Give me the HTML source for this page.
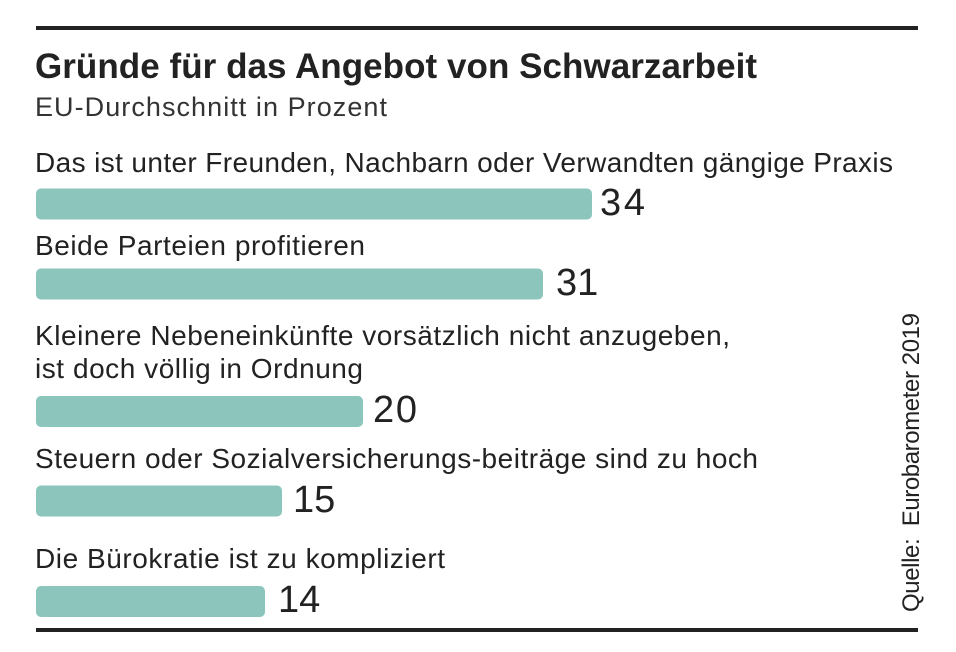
<!DOCTYPE html>
<html>
<head>
<meta charset="utf-8">
<style>
  html, body { margin:0; padding:0; background:#fff; }
  svg { display:block; }
  text { font-family: "Liberation Sans", Arial, sans-serif; fill:#222; }
</style>
</head>
<body>
<svg width="956" height="652" viewBox="0 0 956 652" xmlns="http://www.w3.org/2000/svg">
  <rect x="0" y="0" width="956" height="652" fill="#fff"/>
  <!-- top rule -->
  <rect x="36" y="26" width="882" height="4" fill="#222"/>
  <!-- title -->
  <text x="35" y="78" font-size="35" font-weight="bold" textLength="722" lengthAdjust="spacing">Gründe für das Angebot von Schwarzarbeit</text>
  <text x="35" y="116" font-size="27" style="fill:#333" textLength="352" lengthAdjust="spacing">EU-Durchschnitt in Prozent</text>

  <!-- labels -->
  <text x="35" y="172" font-size="28" textLength="858" lengthAdjust="spacing">Das ist unter Freunden, Nachbarn oder Verwandten gängige Praxis</text>
  <text x="35" y="255" font-size="28" textLength="330" lengthAdjust="spacing">Beide Parteien profitieren</text>
  <text x="35" y="345" font-size="28" textLength="695" lengthAdjust="spacing">Kleinere Nebeneinkünfte vorsätzlich nicht anzugeben,</text>
  <text x="35" y="378" font-size="28" textLength="328" lengthAdjust="spacing">ist doch völlig in Ordnung</text>
  <text x="35" y="468" font-size="28" textLength="723" lengthAdjust="spacing">Steuern oder Sozialversicherungs-beiträge sind zu hoch</text>
  <text x="35" y="568" font-size="28" textLength="410" lengthAdjust="spacing">Die Bürokratie ist zu kompliziert</text>

  <!-- bars -->
  <g fill="#8bc5bb">
    <rect x="36" y="188.5" width="556" height="31" rx="5" ry="5"/>
    <rect x="36" y="268.5" width="507" height="31" rx="5" ry="5"/>
    <rect x="36" y="396" width="327" height="31" rx="5" ry="5"/>
    <rect x="36" y="485.5" width="246" height="31" rx="5" ry="5"/>
    <rect x="36" y="586" width="229" height="31" rx="5" ry="5"/>
  </g>

  <!-- values -->
  <g font-size="38">
    <text x="600" y="215" textLength="45" lengthAdjust="spacing">34</text>
    <text x="556" y="295">31</text>
    <text x="373" y="422" textLength="44" lengthAdjust="spacing">20</text>
    <text x="293" y="512">15</text>
    <text x="278" y="612">14</text>
  </g>

  <!-- source -->
  <text transform="translate(919,612) rotate(-90)" x="0" y="0" font-size="24" style="white-space:pre" textLength="299" lengthAdjust="spacing">Quelle:  Eurobarometer 2019</text>

  <!-- bottom rule -->
  <rect x="36" y="628" width="882" height="4" fill="#222"/>
</svg>
</body>
</html>
